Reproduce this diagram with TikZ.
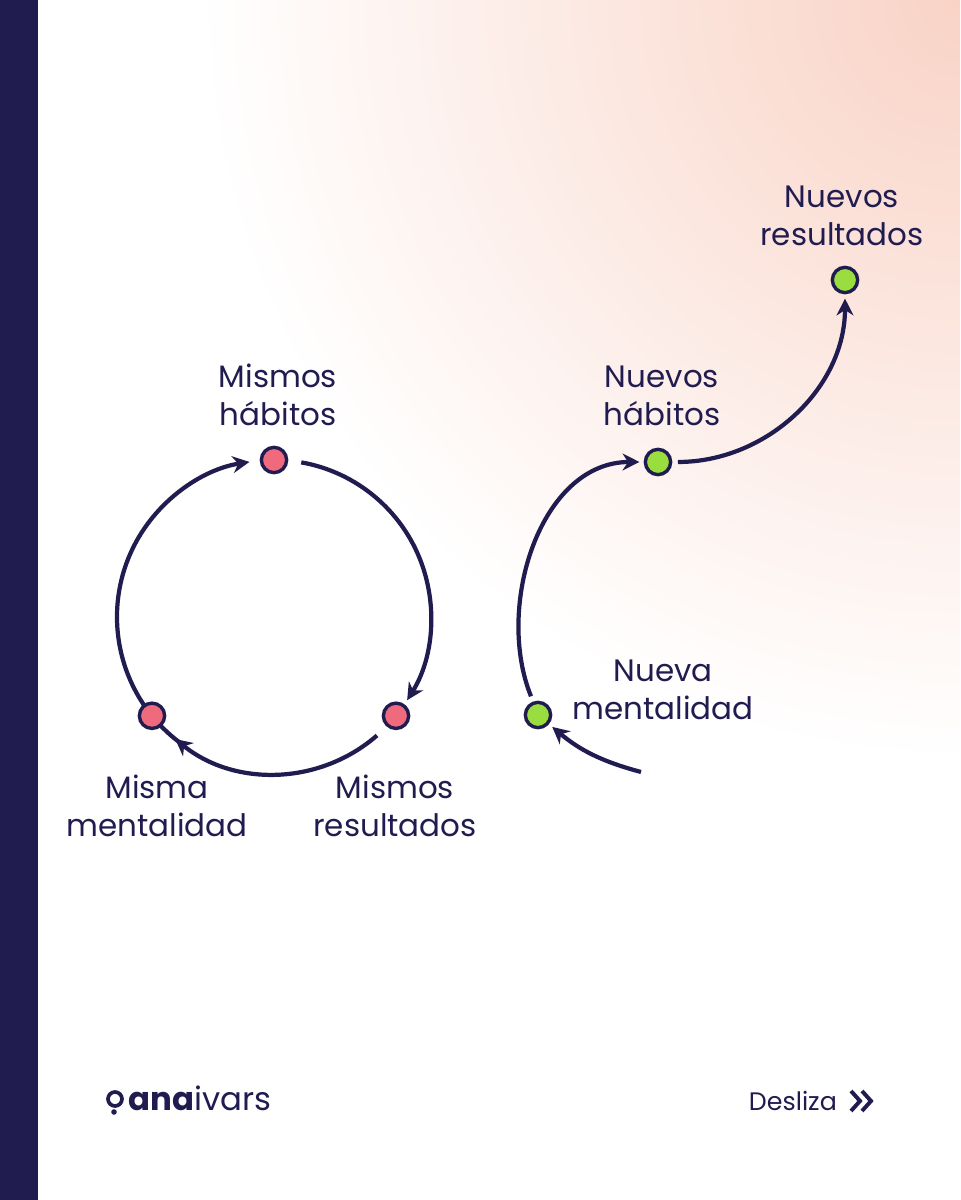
\documentclass[tikz,border=0pt]{standalone}
\usepackage{fontspec}
\setmainfont{Poppins}
\usetikzlibrary{arrows.meta,calc}
\definecolor{navy}{HTML}{211C50}
\definecolor{peach}{HTML}{F9D3C6}
\definecolor{dotred}{HTML}{EE6A7C}
\definecolor{dotgreen}{HTML}{9ADD3E}
\tikzset{
  dot/.style={draw=navy, circle, line width=2.4pt, minimum size=18pt, inner sep=0pt},
  lbl/.style={text=navy, align=center, font=\fontsize{22}{27}\selectfont},
  link/.style={draw=navy, line width=3pt, -{Stealth[length=12pt,width=12pt]}}
}
\begin{document}
\begin{tikzpicture}[x=0.025cm, y=0.025cm]
\useasboundingbox (0,0) rectangle (960,1200);
\fill[white] (0,0) rectangle (960,1200);
\begin{scope}
\clip (0,0) rectangle (960,1200);
\shade[inner color=peach, outer color=white] (960,1200) circle (760);
\end{scope}
\fill[navy] (0,0) rectangle (38,1200);

% left loop
\coordinate (c) at (274,583);
\draw[link] ($(c)+(80:157)$) arc[start angle=80, end angle=-32, radius=157];
\draw[link] ($(c)+(-49:157)$) arc[start angle=-49, end angle=-129, radius=157];
\draw[link] ($(c)+(235:157)$) arc[start angle=235, end angle=99, radius=157];
\node[dot, fill=dotred] (mh) at ($(c)+(90:157)$) {};
\node[dot, fill=dotred] (mr) at ($(c)+(-39:157)$) {};
\node[dot, fill=dotred] (mm) at ($(c)+(219:157)$) {};

\node[lbl] at (278,805) {Mismos\\hábitos};
\node[lbl] at (395,394) {Mismos\\resultados};
\node[lbl] at (157,394) {Misma\\mentalidad};

% right path
\node[dot, fill=dotgreen] (nm) at (538,485) {};
\node[dot, fill=dotgreen] (nh) at (658,738) {};
\node[dot, fill=dotgreen] (nr) at (845,920) {};
\coordinate (start) at (641,428);
\draw[link, shorten >=3pt] (start) to[out=165, in=-40] (nm);
\draw[link, shorten <=4pt, shorten >=3pt] (nm.110) to[out=112, in=180] (nh.west);
\draw[link, shorten <=4pt, shorten >=3pt] (nh.east) to[out=0, in=-90] (nr.south);

\node[lbl] at (663,510) {Nueva\\mentalidad};
\node[lbl] at (662,804) {Nuevos\\hábitos};
\node[lbl] at (842,984) {Nuevos\\resultados};

% footer
\node[text=navy, anchor=west, font=\fontsize{23}{27}\selectfont] (logo) at (124,102) {\textbf{ana}ivars};
\draw[navy, line width=2.6pt] (115,101) circle (7);
\fill[navy] (114,88) circle (2.8);
\node[text=navy, anchor=west, font=\fontsize{18}{22}\selectfont] (desliza) at (744,99) {Desliza};
\draw[navy, line width=2.8pt] (851,109) -- (860,99) -- (851,89);
\draw[navy, line width=2.8pt] (862,109) -- (871,99) -- (862,89);
\end{tikzpicture}
\end{document}
